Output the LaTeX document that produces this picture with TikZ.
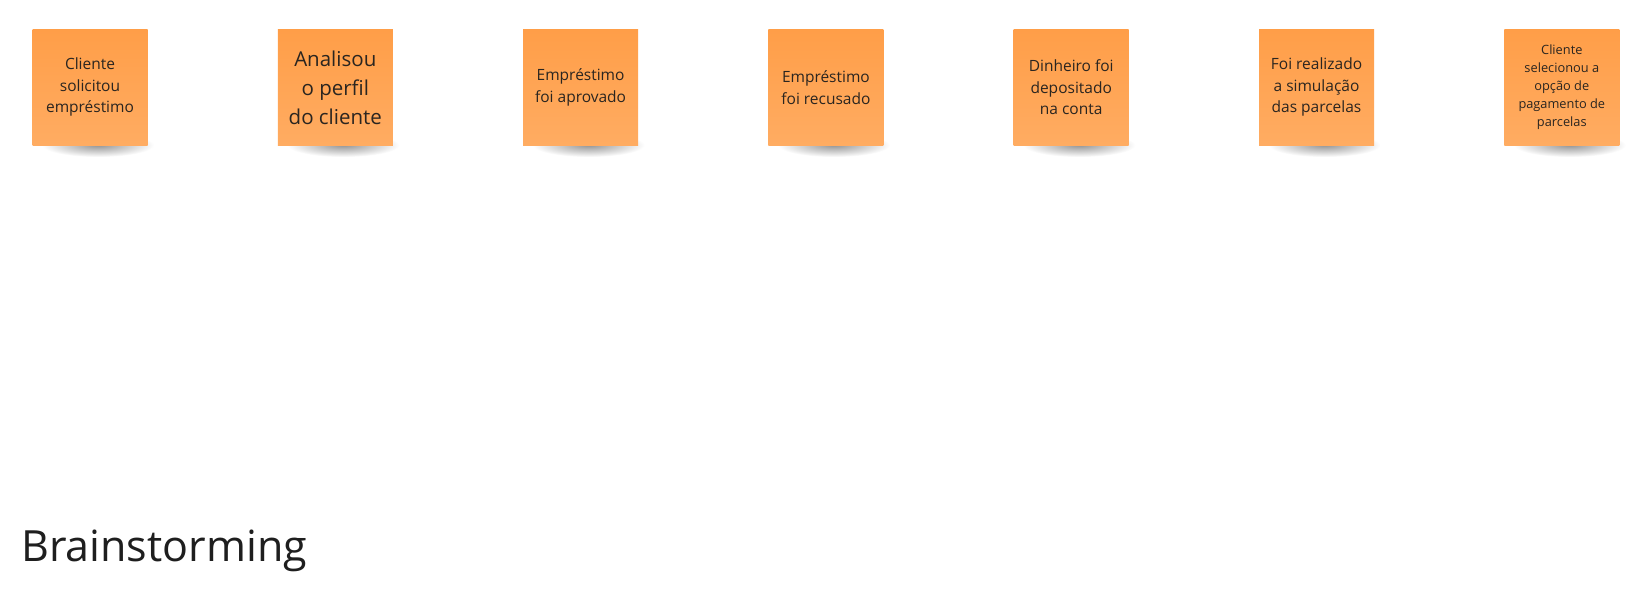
\documentclass[tikz,border=0pt]{standalone}
\usepackage{fontspec}
\setmainfont{Open Sans}
\definecolor{notetop}{HTML}{FF9E48}
\definecolor{notebot}{HTML}{FFAC62}
\definecolor{notetext}{HTML}{2A2520}
\definecolor{titletext}{HTML}{1E1E1E}
\begin{document}
\begin{tikzpicture}[x=1pt,y=-1pt,
  sticky/.style={minimum width=115pt,minimum height=116pt,inner sep=0pt,
    top color=notetop,bottom color=notebot,draw=none,
    text=notetext,align=center},
  fA/.style={font=\fontsize{15.5}{21.5}\selectfont},
  fB/.style={font=\fontsize{20.5}{29}\selectfont},
  fC/.style={font=\fontsize{12.8}{18}\selectfont}]
\useasboundingbox[fill=white] (0,0) rectangle (1649,606);
\foreach \i in {0,...,6}{
  \pgfmathsetmacro{\cx}{90+245.3*\i}
  \shade[inner color=black!42,outer color=white] (\cx+8,145) ellipse (56pt and 12pt);
}
\node[sticky,fA] (n1) at (90,87) {Cliente\\solicitou\\empréstimo};
\node[sticky,fB] (n2) at (335.3,87.5) {Analisou\\o perfil\\do cliente};
\node[sticky,fA] (n3) at (580.6,87.5) {Empréstimo\\foi aprovado};
\node[sticky,fA] (n4) at (825.9,87.5) {Empréstimo\\foi recusado};
\node[sticky,fA] (n5) at (1071.2,87.5) {Dinheiro foi\\depositado\\na conta};
\node[sticky,fA] (n6) at (1316.5,87) {Foi realizado\\a simulação\\das parcelas};
\node[sticky,fC] (n7) at (1561.8,87.5) {Cliente\\selecionou a\\opção de\\pagamento de\\parcelas};
\node[anchor=base west,inner sep=0pt,text=titletext,font=\fontsize{43}{50}\selectfont] (title) at (21,561) {Brainstorming};
\end{tikzpicture}
\end{document}
